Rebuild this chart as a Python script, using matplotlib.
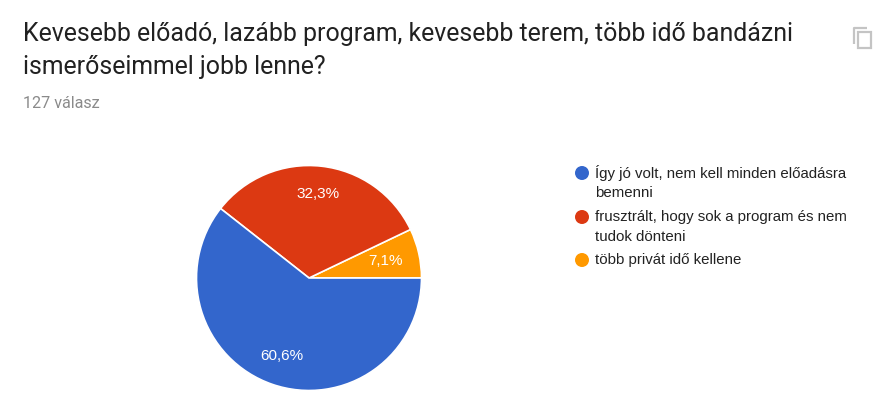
import math
import matplotlib
matplotlib.use("Agg")
import matplotlib.pyplot as plt
from matplotlib.patches import Rectangle, Circle

W, H = 895, 396
title_lines = ["Kevesebb előadó, lazább program, kevesebb terem, több idő bandázni", "ismerőseimmel jobb lenne?"]
subtitle = "127 válasz"
labels = ["Így jó volt, nem kell minden előadásra\nbemenni", "frusztrált, hogy sok a program és nem\ntudok dönteni", "több privát idő kellene"]
values = [60.6, 32.3, 7.1]
value_labels = ["60,6%", "32,3%", "7,1%"]
colors = ["#3366cc", "#dc3912", "#ff9900"]

plt.rcParams['font.family'] = ['Roboto', 'DejaVu Sans']
fig = plt.figure(figsize=(W/100, H/100), dpi=100, facecolor="white")
bg = fig.add_axes([0, 0, 1, 1])
bg.set_xlim(0, W); bg.set_ylim(H, 0); bg.axis("off")

bg.text(23, 34, title_lines[0], fontsize=17.9, color="#212121", va="center")
bg.text(23, 67, title_lines[1], fontsize=17.9, color="#212121", va="center")
bg.text(23, 103, subtitle, fontsize=11.6, color="#8a8a8a", va="center")

# copy icon: back sheet is an L, front sheet a full rectangle
bg.plot([854, 854, 867], [44, 28, 28], color="#c4c4c4", lw=1.6, solid_capstyle="butt")
bg.add_patch(Rectangle((858, 32), 13, 16, fc="white", ec="#c4c4c4", lw=1.6))

cx, cy, r = 309, 278, 112.5
ax = fig.add_axes([(cx-r)/W, 1-(cy+r)/H, 2*r/W, 2*r/H])
ax.pie(values[::-1], colors=colors[::-1], startangle=0, radius=1,
       wedgeprops=dict(edgecolor="white", linewidth=1.2))
ax.set_xlim(-1, 1); ax.set_ylim(-1, 1)
ax.set_aspect("equal")

label_radii = [0.70, 0.75, 0.73]
cum = 0
for v, lab, lr in zip(values[::-1], value_labels[::-1], label_radii):
    a = math.radians((cum + v/2) * 3.6)
    ax.text(lr*math.cos(a), lr*math.sin(a), lab, color="white", fontsize=11,
            ha="center", va="center", family="Liberation Sans")
    cum += v

ys = [173, 217, 260]
for lab, c, y in zip(labels, colors, ys):
    bg.add_patch(Circle((582, y), 7, fc=c, ec="none"))
    for i, line in enumerate(lab.split("\n")):
        bg.text(595, y + i*20, line, fontsize=10.85, color="#222222", va="center",
                family="Liberation Sans")

fig.savefig("out.png", dpi=100)
